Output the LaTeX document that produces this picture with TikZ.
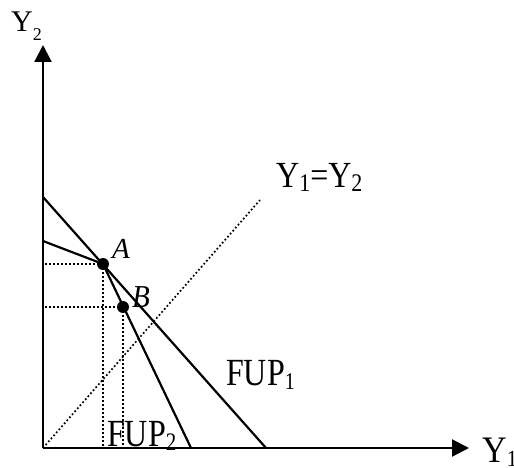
\documentclass[tikz,border=0pt]{standalone}
\usepackage{fontspec}
\setmainfont{Liberation Serif}
\usepackage{graphicx}
\usetikzlibrary{arrows.meta}
\newcommand\sbs[3]{\raisebox{-#1pt}{\fontsize{#2}{#2}\selectfont #3}}
\newcommand\tall[2]{\scalebox{1}[#1]{#2}}
\begin{document}
\begin{tikzpicture}[x=1pt,y=-1pt,
  axis/.style={line width=2.2pt,-{Triangle[length=17pt,width=17pt]}},
  curve/.style={line width=2.2pt},
  guide/.style={line width=1.7pt,dash pattern=on 1.7pt off 2.3pt},
  pt/.style={circle,fill=black,inner sep=0pt,minimum size=12pt},
  lbl/.style={inner sep=0pt,font=\fontsize{32}{36}\selectfont}]
\useasboundingbox (0,0) rectangle (514,468);
\coordinate (O) at (43,448);
\coordinate (ytop) at (43,45);
\coordinate (xend) at (469,448);
\coordinate (p1a) at (43,197);
\coordinate (p1b) at (266,448);
\coordinate (p2a) at (43,241);
\coordinate (p2b) at (191,448);
\coordinate (diag) at (260,200);
\coordinate (Ax) at (103,448);
\coordinate (Ay) at (43,264);
\coordinate (Bx) at (123,448);
\coordinate (By) at (43,307);
\node[pt] (A) at (103,264) {};
\node[pt] (B) at (123,307) {};
% guides
\draw[guide] (O) -- (diag);
\draw[guide] (A.center) -- (Ay);
\draw[guide] (A.center) -- (Ax);
\draw[guide] (B.center) -- (By);
\draw[guide] (B.center) -- (Bx);
% frontiers
\draw[curve] (p1a) -- (p1b);
\draw[curve] (p2a) -- (A.center) -- (p2b);
% axes
\draw[axis] (O) -- (ytop);
\draw[axis] (O) -- (xend);
% labels
\node[lbl,anchor=base west,font=\fontsize{30}{34}\selectfont] (ly2) at (11,32) {Y\sbs{9}{18}{2}};
\node[lbl,anchor=base west,font=\fontsize{34}{38}\selectfont] (ly1) at (482,462) {\tall{1.1}{Y\sbs{4}{21}{1}}};
\node[lbl,anchor=base west] (leq) at (276,187) {\tall{1.15}{Y\sbs{4}{22}{1}=Y\sbs{4}{22}{2}}};
\node[lbl,anchor=base west] (lf1) at (226,385) {\tall{1.2}{FUP\sbs{4}{20}{1}}};
\node[lbl,anchor=base west] (lf2) at (107,446) {\tall{1.2}{FUP\sbs{4}{21}{2}}};
\node[lbl,anchor=base west,font=\fontsize{29}{32}\selectfont] (la) at (112,258) {\itshape A};
\node[lbl,anchor=base west,font=\fontsize{29}{32}\selectfont] (lb) at (132,307) {\tall{1.1}{\itshape B}};
\end{tikzpicture}
\end{document}
